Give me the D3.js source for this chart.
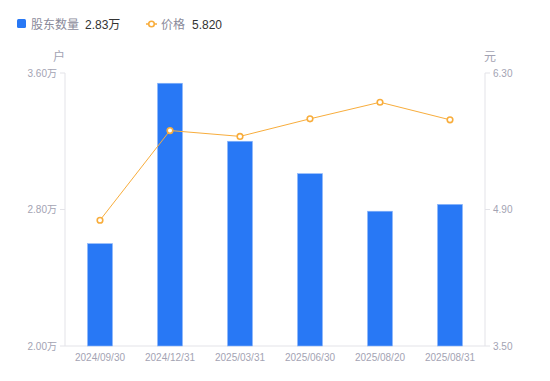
<!DOCTYPE html>
<html>
<head>
<meta charset="utf-8">
<script src="https://cdn.jsdelivr.net/npm/d3@7"></script>
<style>
  body { margin: 0; background: #fff; }
  svg { font-family: "Liberation Sans", "Noto Sans CJK SC", sans-serif; }
</style>
</head>
<body>
<div id="main"></div>
<script>
// 数据
const dates = ['2024/09/30', '2024/12/31', '2025/03/31', '2025/06/30', '2025/08/20', '2025/08/31'];
const holders = [2.60, 3.54, 3.20, 3.01, 2.79, 2.83]; // 万户
const prices = [4.79, 5.71, 5.65, 5.83, 6.00, 5.82];
const leftTicks = [2.0, 2.8, 3.6];
const rightTicks = [3.5, 4.9, 6.3];

const W = 550, H = 381;
const mLeft = 65, mRight = 485, mTop = 73, mBottom = 346;
const barColor = '#2878f5', lineColor = '#f8ad3c', axisColor = '#e3e3e8', textColor = '#a3a3b3';

const svg = d3.select('#main').append('svg').attr('width', W).attr('height', H);

const x = d3.scaleBand().domain(dates).range([mLeft, mRight]);
const yL = d3.scaleLinear().domain([2.0, 3.6]).range([mBottom, mTop]);
const yR = d3.scaleLinear().domain([3.5, 6.3]).range([mBottom, mTop]);

// 左轴
svg.append('line').attr('x1', mLeft).attr('x2', mLeft).attr('y1', mTop).attr('y2', mBottom).attr('stroke', axisColor);
svg.append('g').selectAll('g').data(leftTicks).enter().append('g').each(function (d) {
    const g = d3.select(this);
    g.append('line').attr('x1', mLeft - 5).attr('x2', mLeft).attr('y1', yL(d)).attr('y2', yL(d)).attr('stroke', axisColor);
    g.append('text').attr('x', mLeft - 8).attr('y', yL(d)).attr('dy', '0.35em').attr('text-anchor', 'end')
        .attr('font-size', 10).attr('fill', textColor).text(d.toFixed(2) + '万');
});

// 右轴
svg.append('line').attr('x1', mRight).attr('x2', mRight).attr('y1', mTop).attr('y2', mBottom).attr('stroke', axisColor);
svg.append('g').selectAll('g').data(rightTicks).enter().append('g').each(function (d) {
    const g = d3.select(this);
    g.append('line').attr('x1', mRight).attr('x2', mRight + 5).attr('y1', yR(d)).attr('y2', yR(d)).attr('stroke', axisColor);
    g.append('text').attr('x', mRight + 8).attr('y', yR(d)).attr('dy', '0.35em')
        .attr('font-size', 10).attr('fill', textColor).text(d.toFixed(2));
});

// 底轴
svg.append('line').attr('x1', mLeft).attr('x2', mRight).attr('y1', mBottom).attr('y2', mBottom).attr('stroke', axisColor);
svg.append('g').selectAll('text').data(dates).enter().append('text')
    .attr('x', d => x(d) + x.bandwidth() / 2).attr('y', mBottom + 15).attr('text-anchor', 'middle')
    .attr('font-size', 10).attr('fill', textColor).text(d => d);

// 单位
svg.append('text').attr('x', 59).attr('y', 61).attr('text-anchor', 'middle').attr('font-size', 12).attr('fill', textColor).text('户');
svg.append('text').attr('x', 490).attr('y', 61).attr('text-anchor', 'middle').attr('font-size', 12).attr('fill', textColor).text('元');

// 柱子
const bw = 25;
svg.append('g').selectAll('rect').data(holders).enter().append('rect')
    .attr('x', (d, i) => x(dates[i]) + x.bandwidth() / 2 - bw / 2)
    .attr('y', d => yL(d))
    .attr('width', bw)
    .attr('height', d => mBottom - yL(d))
    .attr('fill', barColor)
    .attr('stroke', '#8fb8fa').attr('stroke-width', 0.6);

// 折线
const line = d3.line().x((d, i) => x(dates[i]) + x.bandwidth() / 2).y(d => yR(d));
svg.append('path').datum(prices).attr('d', line).attr('fill', 'none').attr('stroke', lineColor).attr('stroke-width', 1);
svg.append('g').selectAll('circle').data(prices).enter().append('circle')
    .attr('cx', (d, i) => x(dates[i]) + x.bandwidth() / 2).attr('cy', d => yR(d)).attr('r', 2.8)
    .attr('fill', '#fff').attr('stroke', lineColor).attr('stroke-width', 1.6);

// 图例
const lg = svg.append('g');
lg.append('rect').attr('x', 17).attr('y', 19).attr('width', 9).attr('height', 9).attr('rx', 1.5).attr('fill', barColor);
lg.append('text').attr('x', 31).attr('y', 28.5).attr('font-size', 12).attr('fill', '#8a8a9a').text('股东数量');
lg.append('text').attr('x', 85).attr('y', 28.5).attr('font-size', 12).attr('fill', '#333').text(holders[holders.length - 1].toFixed(2) + '万');
lg.append('line').attr('x1', 146).attr('x2', 157).attr('y1', 24).attr('y2', 24).attr('stroke', lineColor).attr('stroke-width', 1.5);
lg.append('circle').attr('cx', 151.5).attr('cy', 24).attr('r', 2.8).attr('fill', '#fff').attr('stroke', lineColor).attr('stroke-width', 1.6);
lg.append('text').attr('x', 161).attr('y', 28.5).attr('font-size', 12).attr('fill', '#8a8a9a').text('价格');
lg.append('text').attr('x', 192).attr('y', 28.5).attr('font-size', 12).attr('fill', '#333').text(prices[prices.length - 1].toFixed(3));
</script>
</body>
</html>
